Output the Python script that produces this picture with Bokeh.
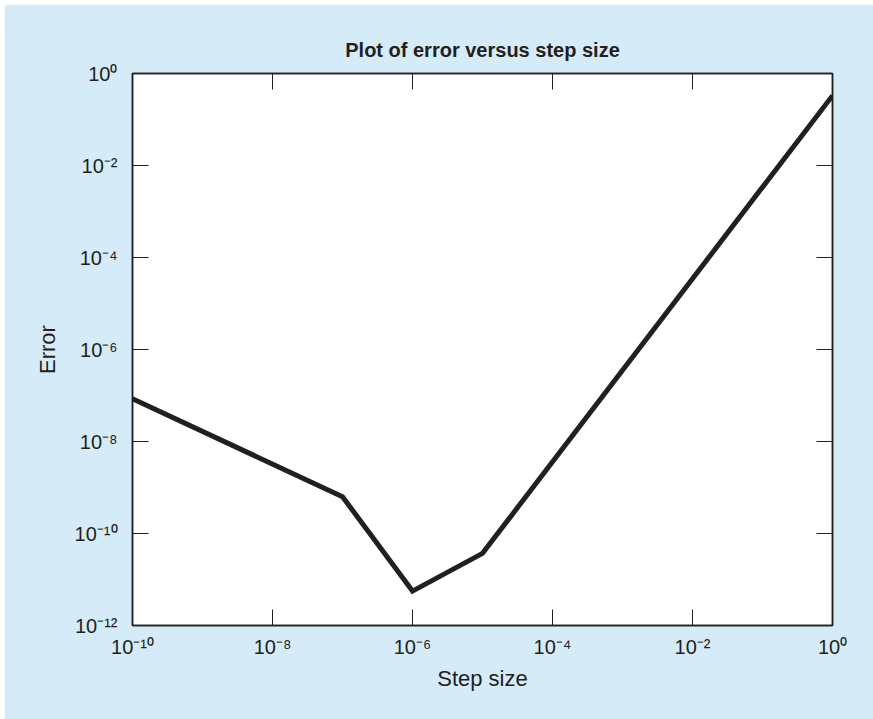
from bokeh.plotting import figure
from bokeh.models import LogAxis, FixedTicker, Range1d
from bokeh.embed import file_html
from bokeh.resources import INLINE

# ---- data ----
step_size = [1e-10, 1e-7, 1e-6, 1e-5, 1e0]
error = [8.5e-8, 6.3e-10, 5.6e-12, 3.7e-11, 0.33]

x_ticks = [1e-10, 1e-8, 1e-6, 1e-4, 1e-2, 1e0]
x_tick_labels = ["10⁻¹⁰", "10⁻⁸", "10⁻⁶", "10⁻⁴", "10⁻²", "10⁰"]
y_ticks = [1e-12, 1e-10, 1e-8, 1e-6, 1e-4, 1e-2, 1e0]
y_tick_labels = ["10⁻¹²", "10⁻¹⁰", "10⁻⁸", "10⁻⁶", "10⁻⁴", "10⁻²", "10⁰"]

FONT = "Liberation Sans"
BG = "#d5ebf8"
INK = "#231f20"

p = figure(
    width=869, height=715,
    frame_width=700, frame_height=552,
    x_axis_type="log", y_axis_type="log",
    x_range=Range1d(1e-10, 1e0), y_range=Range1d(1e-12, 1e0),
    output_backend="svg", toolbar_location=None,
    min_border_left=128, min_border_right=41,
    min_border_top=69, min_border_bottom=94,
    title="Plot of error versus step size",
)
p.margin = (4, 0, 0, 4)
p.border_fill_color = BG
p.background_fill_color = "white"
p.outline_line_color = INK
p.outline_line_width = 1.5
p.grid.visible = False

p.title.align = "center"
p.title.text_font = FONT
p.title.text_font_size = "20px"
p.title.text_font_style = "bold"
p.title.text_color = INK
p.title.standoff = 26


def style_axis(ax, show_labels):
    ax.axis_line_color = INK
    ax.axis_line_width = 1.5
    ax.major_tick_in = 16
    ax.major_tick_out = 0
    ax.major_tick_line_color = INK
    ax.major_tick_line_width = 1
    ax.minor_tick_line_color = None
    ax.major_label_text_font = FONT
    ax.major_label_text_color = INK
    if show_labels:
        ax.major_label_text_font_size = "20px"
    else:
        ax.major_label_text_font_size = "1px"
        ax.major_label_text_color = None
        ax.major_label_standoff = 0


xa = p.xaxis[0]
xa.ticker = FixedTicker(ticks=x_ticks, minor_ticks=[])
xa.major_label_overrides = dict(zip(x_ticks, x_tick_labels))
style_axis(xa, True)
xa.major_label_standoff = 10
xa.axis_label = "Step size"
xa.axis_label_text_font = FONT
xa.axis_label_text_font_size = "22px"
xa.axis_label_text_font_style = "normal"
xa.axis_label_text_color = INK
xa.axis_label_standoff = 5

ya = p.yaxis[0]
ya.ticker = FixedTicker(ticks=y_ticks, minor_ticks=[])
ya.major_label_overrides = dict(zip(y_ticks, y_tick_labels))
style_axis(ya, True)
ya.major_label_standoff = 15
ya.axis_label = "Error"
ya.axis_label_text_font = FONT
ya.axis_label_text_font_size = "22px"
ya.axis_label_text_font_style = "normal"
ya.axis_label_text_color = INK
ya.axis_label_standoff = 12

top = LogAxis(ticker=FixedTicker(ticks=x_ticks, minor_ticks=[]))
style_axis(top, False)
p.add_layout(top, "above")
right = LogAxis(ticker=FixedTicker(ticks=y_ticks, minor_ticks=[]))
style_axis(right, False)
p.add_layout(right, "right")

p.line(step_size, error, line_color=INK, line_width=5, line_join="miter")

open("out.html", "w").write(file_html(p, INLINE))
